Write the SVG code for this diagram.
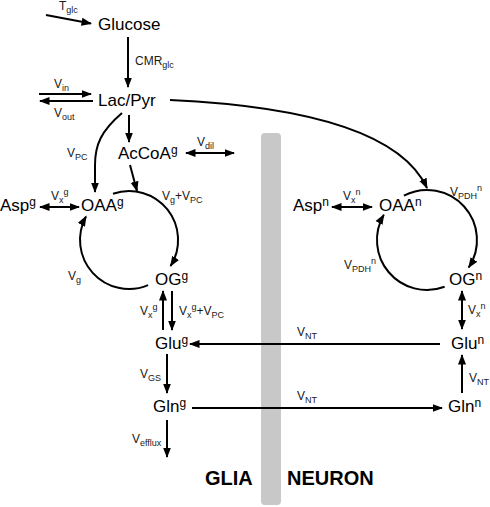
<svg xmlns="http://www.w3.org/2000/svg" width="490" height="507" viewBox="0 0 490 507">
<defs>
<style>
text{font-family:"Liberation Sans",Arial,sans-serif;fill:#000}
.n{font-size:17px}
.sp{font-size:12px}
.e{font-size:12px;fill:#1a1a1a}
.s{font-size:9px}
.b{font-size:20px;font-weight:bold}
.c{fill:none;stroke:#000;stroke-width:2}
.a{marker-end:url(#ah)}
.d{marker-start:url(#ah);marker-end:url(#ah)}
</style>
<marker id="ah" markerUnits="userSpaceOnUse" markerWidth="11" markerHeight="9" refX="9.5" refY="4.5" orient="auto-start-reverse">
<path d="M0,0.5 L10.5,4.5 L0,8.5 z" fill="#000"/>
</marker>
</defs>
<rect id="membrane" x="261" y="133" width="20" height="372" rx="4" fill="#c8c8c8"/>
<g id="connectors">
<line class="c a" x1="46" y1="15" x2="91" y2="23.5"/>
<line class="c a" x1="128" y1="37" x2="128" y2="87"/>
<line class="c a" x1="39" y1="94" x2="91" y2="94"/>
<line class="c a" x1="93" y1="101" x2="40" y2="101"/>
<line class="c a" x1="129" y1="115" x2="129" y2="142"/>
<line class="c d" x1="186" y1="153" x2="234" y2="153"/>
<path class="c a" d="M122,113 C101,131 95,145 95,165 L95,192"/>
<line class="c a" x1="130" y1="165" x2="137" y2="191"/>
<path class="c a" d="M170,100 C300,106 400,130 427,188"/>
<line class="c d" x1="40" y1="207" x2="79" y2="207"/>
<path class="c a" d="M113,193.7 A49,49 0 0 1 170.6,266"/>
<path class="c a" d="M148.1,285.1 A49,49 0 0 1 86,216.5"/>
<line class="c a" x1="163" y1="330" x2="163" y2="291"/>
<line class="c a" x1="172" y1="291" x2="172" y2="330"/>
<line class="c a" x1="440" y1="344" x2="190" y2="344"/>
<line class="c a" x1="167" y1="354" x2="167" y2="393"/>
<line class="c a" x1="192" y1="408" x2="442" y2="408"/>
<line class="c a" x1="462" y1="393" x2="462" y2="355"/>
<line class="c a" x1="167" y1="420" x2="167" y2="457"/>
<line class="c d" x1="332" y1="207" x2="372" y2="207"/>
<path class="c a" d="M403.9,195.6 A50,50 0 0 1 468.7,267.5"/>
<path class="c a" d="M444.6,286.8 A50,50 0 0 1 383.8,214.8"/>
<line class="c d" x1="462" y1="291" x2="462" y2="329"/>
</g>
<g id="edge-labels">
<text class="e" x="59" y="10">T<tspan class="s" dy="3">glc</tspan></text>
<text class="e" x="135" y="65">CMR<tspan class="s" dy="3">glc</tspan></text>
<text class="e" x="54" y="88">V<tspan class="s" dy="3">in</tspan></text>
<text class="e" x="54" y="117">V<tspan class="s" dy="3">out</tspan></text>
<text class="e" x="67" y="157">V<tspan class="s" dy="3">PC</tspan></text>
<text class="e" x="197" y="146">V<tspan class="s" dy="3">dil</tspan></text>
<text class="e" x="51" y="200">V<tspan class="s" dy="3">x</tspan><tspan class="s" dy="-8">g</tspan></text>
<text class="e" x="162" y="200">V<tspan class="s" dy="3">g</tspan><tspan dy="-3">+V</tspan><tspan class="s" dy="3">PC</tspan></text>
<text class="e" x="68" y="280">V<tspan class="s" dy="3">g</tspan></text>
<text class="e" x="140" y="315">V<tspan class="s" dy="3">x</tspan><tspan class="s" dy="-8">g</tspan></text>
<text class="e" x="179" y="315">V<tspan class="s" dy="3">x</tspan><tspan class="s" dy="-8">g</tspan><tspan dy="5">+V</tspan><tspan class="s" dy="3">PC</tspan></text>
<text class="e" x="297" y="336">V<tspan class="s" dy="3">NT</tspan></text>
<text class="e" x="140" y="378">V<tspan class="s" dy="3">GS</tspan></text>
<text class="e" x="297" y="400">V<tspan class="s" dy="3">NT</tspan></text>
<text class="e" x="469" y="382">V<tspan class="s" dy="3">NT</tspan></text>
<text class="e" x="132" y="443">V<tspan class="s" dy="3">efflux</tspan></text>
<text class="e" x="343" y="200">V<tspan class="s" dy="3">x</tspan><tspan class="s" dy="-8">n</tspan></text>
<text class="e" x="450" y="196">V<tspan class="s" dy="3">PDH</tspan><tspan class="s" dy="-8">n</tspan></text>
<text class="e" x="344" y="269">V<tspan class="s" dy="3">PDH</tspan><tspan class="s" dy="-8">n</tspan></text>
<text class="e" x="468" y="314">V<tspan class="s" dy="3">x</tspan><tspan class="s" dy="-8">n</tspan></text>
</g>
<g id="glucose"><text class="n" x="98" y="30">Glucose</text></g>
<g id="lacpyr"><text class="n" x="98" y="106">Lac/Pyr</text></g>
<g id="accoa-g"><text class="n" x="118" y="159">AcCoA<tspan class="sp" dy="-5">g</tspan></text></g>
<g id="asp-g"><text class="n" x="0" y="211">Asp<tspan class="sp" dy="-5">g</tspan></text></g>
<g id="oaa-g"><text class="n" x="81" y="211">OAA<tspan class="sp" dy="-5">g</tspan></text></g>
<g id="og-g"><text class="n" x="155" y="285">OG<tspan class="sp" dy="-5">g</tspan></text></g>
<g id="glu-g"><text class="n" x="155" y="349">Glu<tspan class="sp" dy="-5">g</tspan></text></g>
<g id="gln-g"><text class="n" x="153" y="412">Gln<tspan class="sp" dy="-5">g</tspan></text></g>
<g id="asp-n"><text class="n" x="293" y="211">Asp<tspan class="sp" dy="-5">n</tspan></text></g>
<g id="oaa-n"><text class="n" x="379" y="211">OAA<tspan class="sp" dy="-5">n</tspan></text></g>
<g id="og-n"><text class="n" x="449" y="285">OG<tspan class="sp" dy="-5">n</tspan></text></g>
<g id="glu-n"><text class="n" x="451" y="349">Glu<tspan class="sp" dy="-5">n</tspan></text></g>
<g id="gln-n"><text class="n" x="448" y="412">Gln<tspan class="sp" dy="-5">n</tspan></text></g>
<g id="glia-label"><text class="b" x="205" y="485">GLIA</text></g>
<g id="neuron-label"><text class="b" x="287" y="485">NEURON</text></g>
</svg>
